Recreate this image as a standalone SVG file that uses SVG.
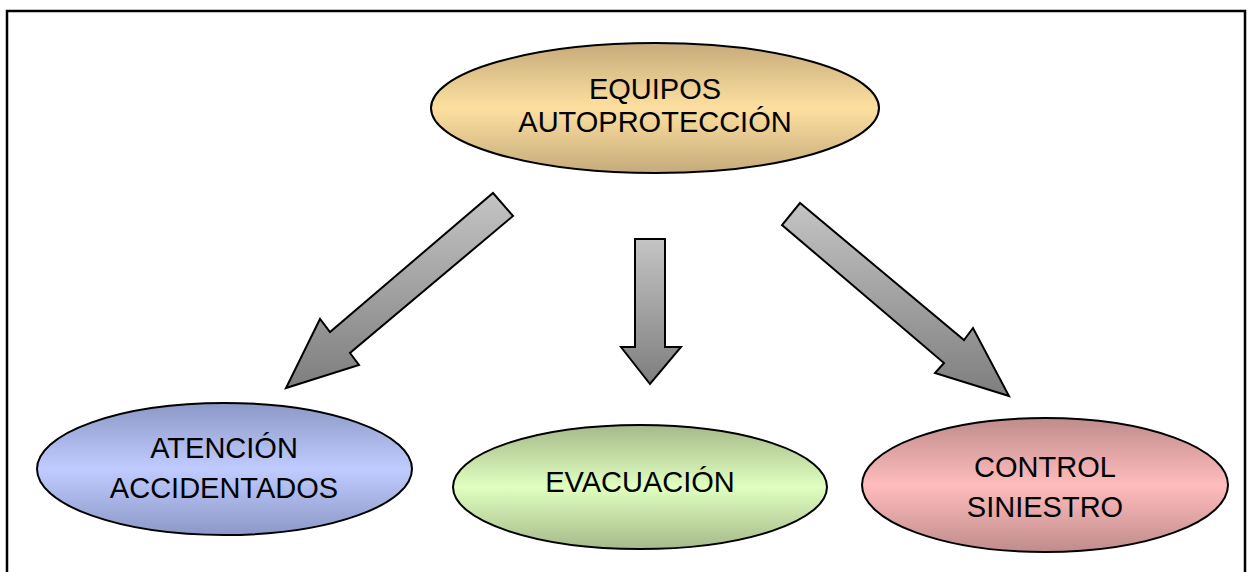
<svg xmlns="http://www.w3.org/2000/svg" width="1247" height="572" viewBox="0 0 1247 572">
<defs>
<linearGradient id="gTop" x1="0" y1="0" x2="0" y2="1"><stop offset="0" stop-color="#c6ab7b"/><stop offset="0.5" stop-color="#fde0a0"/><stop offset="1" stop-color="#c6ab7b"/></linearGradient>
<linearGradient id="gBlue" x1="0" y1="0" x2="0" y2="1"><stop offset="0" stop-color="#8c98c6"/><stop offset="0.5" stop-color="#c0ccff"/><stop offset="1" stop-color="#8c98c6"/></linearGradient>
<linearGradient id="gGreen" x1="0" y1="0" x2="0" y2="1"><stop offset="0" stop-color="#a6ba8a"/><stop offset="0.5" stop-color="#e0ffc0"/><stop offset="1" stop-color="#a6ba8a"/></linearGradient>
<linearGradient id="gRed" x1="0" y1="0" x2="0" y2="1"><stop offset="0" stop-color="#c08c8c"/><stop offset="0.5" stop-color="#ffbcbc"/><stop offset="1" stop-color="#c08c8c"/></linearGradient>
<linearGradient id="gArrow" x1="0" y1="0" x2="0" y2="1"><stop offset="0" stop-color="#c4c4c4"/><stop offset="1" stop-color="#7e7e7e"/></linearGradient>
</defs>
<style>
.node{stroke:#000;stroke-width:2}
.lbl{font-family:"Liberation Sans",Arial,sans-serif;font-size:29px;fill:#000;text-anchor:middle}
.arrow{fill:url(#gArrow);stroke:#000;stroke-width:2;stroke-linejoin:miter}
</style>
<path d="M7 572 V11 H1245 V572" fill="none" stroke="#000" stroke-width="2.5"/>
<g id="connectors">
<polygon class="arrow" points="493,193 513,216 350,353 359,365 286,388 320,319 330,332"/>
<polygon class="arrow" points="635,239 665,239 665,347 681,347 650,384 621,347 635,347"/>
<polygon class="arrow" points="800,203 782,225 944,363 935,373 1009,396 973,328 964,340"/>
</g>
<g id="equipos">
<ellipse class="node" cx="655" cy="108" rx="224" ry="65" fill="url(#gTop)"/>
<text class="lbl" x="655" y="99">EQUIPOS</text>
<text class="lbl" x="655" y="132">AUTOPROTECCIÓN</text>
</g>
<g id="atencion">
<ellipse class="node" cx="224.5" cy="469" rx="187.5" ry="66" fill="url(#gBlue)"/>
<text class="lbl" x="224" y="458">ATENCIÓN</text>
<text class="lbl" x="224" y="498">ACCIDENTADOS</text>
</g>
<g id="evacuacion">
<ellipse class="node" cx="640" cy="487" rx="187" ry="62" fill="url(#gGreen)"/>
<text class="lbl" x="640" y="492">EVACUACIÓN</text>
</g>
<g id="control">
<ellipse class="node" cx="1045" cy="485" rx="183" ry="67" fill="url(#gRed)"/>
<text class="lbl" x="1045" y="477">CONTROL</text>
<text class="lbl" x="1045" y="517">SINIESTRO</text>
</g>
</svg>
